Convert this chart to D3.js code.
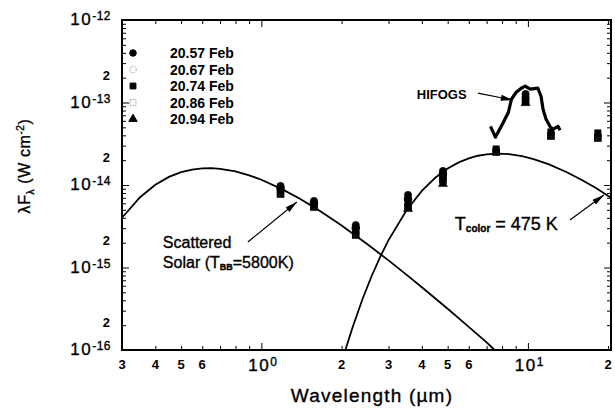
<!DOCTYPE html>
<html><head><meta charset="utf-8">
<script src="https://cdn.jsdelivr.net/npm/d3@7"></script>
<style>
body{margin:0;background:#fff}
svg{display:block}
text{font-family:"Liberation Sans",Arial,Helvetica,sans-serif;fill:#000}
</style>
</head><body>
<svg id="c" width="615" height="408"></svg>
<script>
// ---------------- data ----------------
const dates = ["20.57 Feb","20.67 Feb","20.74 Feb","20.86 Feb","20.94 Feb"];
const photWl  = [1.18, 1.575, 2.26, 3.55, 4.8, 7.6, 9.8, 12.2, 18.3];
const feb2057 = [9.72e-15, 6.4e-15, 3.27e-15, 7.57e-15, 1.48e-14, null, 1.27e-13, null, null];
const feb2067 = [9.2e-15, 6.05e-15, 3.01e-15, 6.77e-15, 1.36e-14, null, null, null, null];
const feb2074 = [8.7e-15, 5.72e-15, 2.77e-15, 6.05e-15, 1.25e-14, 2.73e-14, 1.17e-13, 4.39e-14, 4.27e-14];
const feb2086 = [7.78e-15, 5.41e-15, 2.48e-15, 5.41e-15, 1.15e-14, 2.51e-14, 1.07e-13, 3.93e-14, 3.72e-14];
const feb2094 = [null, null, null, 5.12e-15, 1.03e-14, null, 9.86e-14, null, null];

const solarWl   = [0.3, 0.35, 0.4, 0.45, 0.5, 0.55, 0.6, 0.65, 0.7, 0.8, 0.9, 1.0, 1.2, 1.4, 1.6, 1.8, 2.0, 2.5, 3.0, 3.5, 4.0, 5.0, 6.0, 7.0, 7.5];
const solarFlux = [4.01e-15, 7.06e-15, 1.005e-14, 1.253e-14, 1.431e-14, 1.54e-14, 1.592e-14, 1.598e-14, 1.571e-14, 1.459e-14, 1.311e-14, 1.158e-14, 8.86e-15, 6.76e-15, 5.21e-15, 4.07e-15, 3.23e-15, 1.91e-15, 1.22e-15, 8.19e-16, 5.76e-16, 3.16e-16, 1.91e-16, 1.24e-16, 1.0e-16];

const coldWl   = [2.07, 2.2, 2.4, 2.6, 2.8, 3.0, 3.5, 4.0, 4.5, 5.0, 5.5, 6.0, 6.5, 7.0, 7.73, 8.5, 9.5, 10.5, 12, 14, 16, 18, 20.5];
const coldFlux = [1.02e-16, 1.89e-16, 4.21e-16, 8.06e-16, 1.378e-15, 2.15e-15, 4.91e-15, 8.5e-15, 1.231e-14, 1.585e-14, 1.881e-14, 2.107e-14, 2.263e-14, 2.355e-14, 2.4e-14, 2.361e-14, 2.232e-14, 2.057e-14, 1.775e-14, 1.428e-14, 1.143e-14, 9.19e-15, 7.0e-15];

const hifogsWl   = [7.24, 7.55, 8.09, 8.45, 8.67, 9.04, 9.44, 9.77, 10.2, 10.9, 11.2, 11.4, 11.7, 12.1, 12.4, 12.97, 13.2];
const hifogsFlux = [5.14e-14, 3.8e-14, 5.75e-14, 7.6e-14, 1.095e-13, 1.33e-13, 1.49e-13, 1.58e-13, 1.45e-13, 1.49e-13, 1.19e-13, 8.3e-14, 6.25e-14, 5.14e-14, 4.73e-14, 5.14e-14, 4.6e-14];

const xMajorTicks = [1, 10];
const xMajorLabels = ["0", "1"];
const xMinorLabelVals = [0.3, 0.4, 0.5, 0.6, 2, 3, 4, 5, 6, 20];
const xMinorLabelText = ["3", "4", "5", "6", "2", "3", "4", "5", "6", "2"];
const yMajorTicks = [1e-16, 1e-15, 1e-14, 1e-13, 1e-12];
const yMajorLabels = ["-16", "-15", "-14", "-13", "-12"];
const yMinorLabelVals = [2e-16, 2e-15, 2e-14, 2e-13];

// ---------------- layout ----------------
const svg = d3.select("#c");
const L = 122, R = 611, T = 20, B = 350;
const x = d3.scaleLog().domain([0.3, 20.5]).range([L, R]);
const y = d3.scaleLog().domain([1e-16, 1e-12]).range([B, T]);

const xMinor = [];
[0.1, 1, 10].forEach(d => { for (let k = 2; k <= 9; k++) { const v = d * k; if (v >= 0.3 && v <= 20.5) xMinor.push(v); } });
const yMinor = [];
[1e-16, 1e-15, 1e-14, 1e-13].forEach(d => { for (let k = 2; k <= 9; k++) yMinor.push(d * k); });

function styleAxis(g) {
  g.select(".domain").remove();
  g.selectAll("line").attr("stroke", "#000").attr("stroke-width", 1);
}
svg.append("g").attr("transform", `translate(0,${B})`).call(d3.axisBottom(x).tickValues(xMinor).tickSize(-4).tickFormat("")).call(styleAxis);
svg.append("g").attr("transform", `translate(0,${B})`).call(d3.axisBottom(x).tickValues(xMajorTicks).tickSize(-7).tickFormat("")).call(styleAxis);
svg.append("g").attr("transform", `translate(0,${T})`).call(d3.axisTop(x).tickValues(xMinor).tickSize(-4).tickFormat("")).call(styleAxis);
svg.append("g").attr("transform", `translate(0,${T})`).call(d3.axisTop(x).tickValues(xMajorTicks).tickSize(-7).tickFormat("")).call(styleAxis);
svg.append("g").attr("transform", `translate(${L},0)`).call(d3.axisLeft(y).tickValues(yMinor).tickSize(-4).tickFormat("")).call(styleAxis);
svg.append("g").attr("transform", `translate(${L},0)`).call(d3.axisLeft(y).tickValues(yMajorTicks).tickSize(-7).tickFormat("")).call(styleAxis);
svg.append("g").attr("transform", `translate(${R},0)`).call(d3.axisRight(y).tickValues(yMinor).tickSize(-4).tickFormat("")).call(styleAxis);
svg.append("g").attr("transform", `translate(${R},0)`).call(d3.axisRight(y).tickValues(yMajorTicks).tickSize(-7).tickFormat("")).call(styleAxis);

svg.append("rect").attr("x", L).attr("y", T).attr("width", R - L).attr("height", B - T)
  .attr("fill", "none").attr("stroke", "#000").attr("stroke-width", 2);

const heavy = sel => sel.attr("stroke", "#000").attr("stroke-width", 0.35);

// y labels
yMajorTicks.forEach((v, i) => {
  const t = svg.append("text").attr("x", 111).attr("y", y(v) + 5).attr("text-anchor", "end")
    .style("font-size", "17px").style("letter-spacing", "1.5px").call(heavy);
  t.append("tspan").text("10");
  t.append("tspan").attr("dy", -5).style("font-size", "12px").style("letter-spacing", "0.5px").text(yMajorLabels[i]);
});
yMinorLabelVals.forEach(v => {
  svg.append("text").attr("x", 110).attr("y", y(v) + 2).attr("text-anchor", "end")
    .style("font-size", "13px").style("font-weight", "bold").text("2");
});
// x labels
xMinorLabelVals.forEach((v, i) => {
  svg.append("text").attr("x", x(v)).attr("y", 369).attr("text-anchor", "middle")
    .style("font-size", "13px").style("font-weight", "bold").text(xMinorLabelText[i]);
});
xMajorTicks.forEach((v, i) => {
  const t = svg.append("text").attr("x", x(v) + 2).attr("y", 371).attr("text-anchor", "middle")
    .style("font-size", "17px").style("letter-spacing", "1.5px").call(heavy);
  t.append("tspan").text("10");
  t.append("tspan").attr("dy", -5).style("font-size", "12px").text(xMajorLabels[i]);
});

// axis titles
svg.append("text").attr("x", 372).attr("y", 402).attr("text-anchor", "middle")
  .style("font-size", "19px").style("letter-spacing", "1.2px").call(heavy).text("Wavelength (\u00b5m)");
const yt = svg.append("text").attr("transform", "translate(30,166) rotate(-90)").attr("text-anchor", "middle")
  .style("font-size", "16px").style("letter-spacing", "0.6px").call(heavy);
yt.append("tspan").text("\u03bbF");
yt.append("tspan").attr("dy", 4).style("font-size", "10px").text("\u03bb");
yt.append("tspan").attr("dy", -4).text(" (W cm");
yt.append("tspan").attr("dy", -6).style("font-size", "10px").text("-2");
yt.append("tspan").attr("dy", 6).text(")");

// ---------------- curves ----------------
const line = d3.line().x(d => x(d[0])).y(d => y(d[1]));
svg.append("path").datum(d3.zip(solarWl, solarFlux)).attr("d", line)
  .attr("fill", "none").attr("stroke", "#000").attr("stroke-width", 1.8);
svg.append("path").datum(d3.zip(coldWl, coldFlux)).attr("d", line)
  .attr("fill", "none").attr("stroke", "#000").attr("stroke-width", 1.8);
svg.append("path").datum(d3.zip(hifogsWl, hifogsFlux)).attr("d", line)
  .attr("fill", "none").attr("stroke", "#000").attr("stroke-width", 3.2).attr("stroke-linejoin", "round");

// ---------------- photometry ----------------
const series = [
  {vals: feb2057, type: d3.symbolCircle, filled: true},
  {vals: feb2067, type: d3.symbolCircle, filled: false},
  {vals: feb2074, type: d3.symbolSquare, filled: true},
  {vals: feb2086, type: d3.symbolSquare, filled: false},
  {vals: feb2094, type: d3.symbolTriangle, filled: true}
];
const drawOrder = [1, 3, 0, 2, 4];
drawOrder.forEach(si => {
  const s = series[si];
  const pts = photWl.map((w, i) => [w, s.vals[i]]).filter(d => d[1] != null);
  svg.append("g").selectAll("path").data(pts).join("path")
    .attr("transform", d => `translate(${x(d[0])},${y(d[1])})`)
    .attr("d", d3.symbol().type(s.type).size(s.type === d3.symbolTriangle ? 36 : 42))
    .attr("fill", s.filled ? "#000" : "#111")
    .attr("stroke", "#000").attr("stroke-width", s.filled ? 0.5 : 1.2);
});

// legend
const legX = 133, legY0 = 53, legDy = 16.5;
series.forEach((s, i) => {
  const cy = legY0 + i * legDy;
  svg.append("path").attr("transform", `translate(${legX},${cy})`)
    .attr("d", d3.symbol().type(s.type).size(s.type === d3.symbolTriangle ? 30 : 34))
    .attr("fill", s.filled ? "#000" : "none")
    .attr("stroke", s.filled ? "#000" : "#999")
    .attr("stroke-width", 1).attr("stroke-dasharray", s.filled ? null : "1.5,1.2");
  svg.append("text").attr("x", 170).attr("y", cy + 5)
    .style("font-size", "14px").style("font-weight", "bold").text(dates[i]);
});

// ---------------- annotations ----------------
const defs = svg.append("defs");
defs.append("marker").attr("id", "ah").attr("viewBox", "0 0 12 6").attr("refX", 12).attr("refY", 3)
  .attr("markerWidth", 13).attr("markerHeight", 6).attr("markerUnits", "userSpaceOnUse").attr("orient", "auto")
  .append("path").attr("d", "M0,0 L12,3 L0,6 Z").attr("fill", "#000");
function arrow(a, b) {
  svg.append("line").attr("x1", x(a[0])).attr("y1", y(a[1])).attr("x2", x(b[0])).attr("y2", y(b[1]))
    .attr("stroke", "#000").attr("stroke-width", 1.2).attr("marker-end", "url(#ah)");
}
svg.append("text").attr("x", x(3.83)).attr("y", y(1.09e-13))
  .style("font-size", "13px").style("font-weight", "bold").text("HIFOGS");
arrow([6.49, 1.30e-13], [8.78, 1.07e-13]);
svg.append("text").attr("x", x(0.427)).attr("y", y(1.72e-15)).style("font-size", "16px").call(heavy).text("Scattered");
const sol = svg.append("text").attr("x", x(0.427)).attr("y", y(9.86e-16)).style("font-size", "16px").call(heavy);
sol.append("tspan").text("Solar (T");
sol.append("tspan").attr("dy", 2).style("font-size", "9px").style("font-weight", "bold").text("BB");
sol.append("tspan").attr("dy", -2).text("=5800K)");
arrow([0.890, 2.04e-15], [1.359, 6.22e-15]);
const tc = svg.append("text").attr("x", x(5.32)).attr("y", y(2.85e-15)).style("font-size", "18px").call(heavy);
tc.append("tspan").text("T");
tc.append("tspan").attr("dy", 2).style("font-size", "10px").style("font-weight", "bold").text("color");
tc.append("tspan").attr("dy", -2).text(" = 475 K");
arrow([14.38, 3.77e-15], [19.28, 7.57e-15]);
</script>
</body></html>
